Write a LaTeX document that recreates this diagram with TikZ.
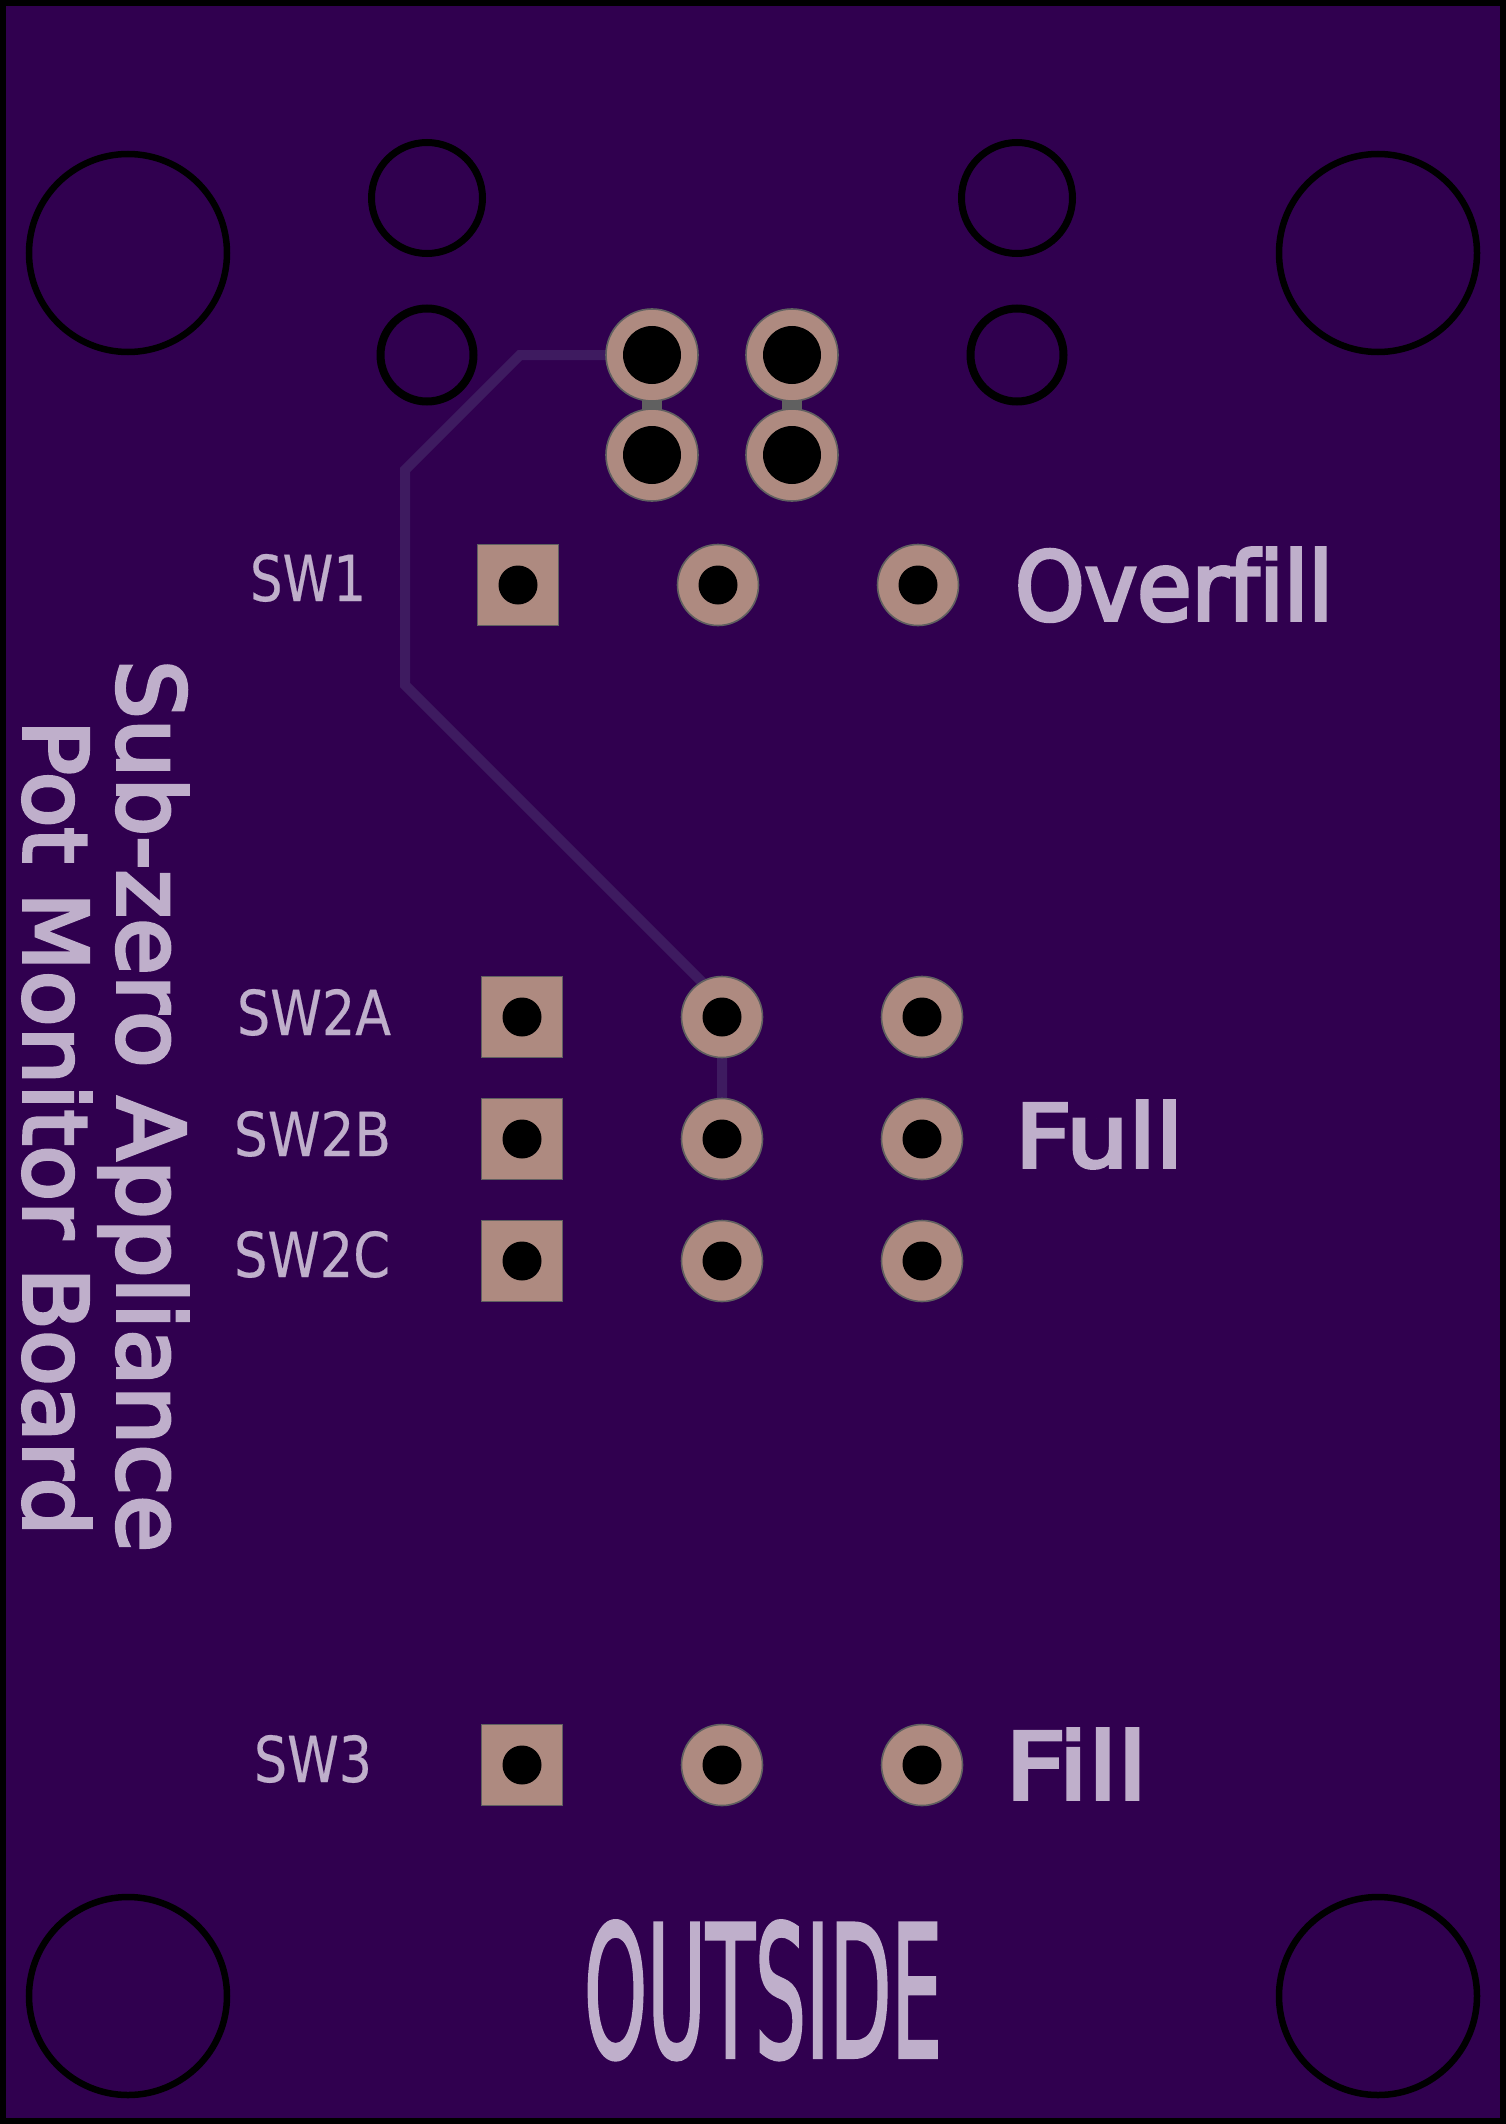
\documentclass[tikz,border=0pt]{standalone}
\usepackage{fontspec}
\usepackage{graphicx}
\setmainfont[Ligatures=NoCommon,FakeBold=0.4]{DejaVu Sans}
\newfontfamily\heavyfont[FakeBold=4,Ligatures=NoCommon]{DejaVu Sans}
\newfontfamily\tallfont[FakeBold=2.2]{DejaVu Sans}
\definecolor{board}{HTML}{30004F}
\definecolor{tracecol}{HTML}{3E1B60}
\definecolor{copper}{HTML}{AE8A80}
\definecolor{padedge}{HTML}{606060}
\definecolor{silk}{HTML}{BFAFCB}
\tikzset{
  outline/.style={draw=black,line width=6pt,fill=board},
  hole/.style={draw=black,line width=6.5pt,circle,minimum size=#1,inner sep=0pt},
  wire/.style={draw=tracecol,line width=10pt,line join=miter},
  neck/.style={fill=padedge,draw=none,minimum width=20pt,minimum height=24pt,inner sep=0pt},
  roundpad/.style={circle,fill=copper,draw=padedge,line width=1.6pt,minimum size=#1,inner sep=0pt},
  squarepad/.style={rectangle,fill=copper,draw=padedge,line width=1.6pt,minimum size=81pt,inner sep=0pt},
  drill/.style={circle,fill=black,draw=none,minimum size=#1,inner sep=0pt},
  silktext/.style={text=silk,inner sep=0pt,outer sep=0pt,anchor=base west}
}
\newcommand{\fitted}[3]{\resizebox{#1pt}{#2pt}{#3}}
\begin{document}
\begin{tikzpicture}[x=1pt,y=-1pt]
\useasboundingbox (0,0) rectangle (1506,2124);
\path[outline] (3,3) rectangle (1503,2121);
% mounting holes
\node[hole=198pt] (m1) at (128,253) {};
\node[hole=198pt] (m2) at (1378,253) {};
\node[hole=198pt] (m3) at (128,1996) {};
\node[hole=198pt] (m4) at (1378,1996) {};
% pot holes
\node[hole=111pt,line width=7pt] (h1) at (427,198) {};
\node[hole=111pt,line width=7pt] (h2) at (1017,198) {};
\node[hole=93pt,line width=8pt] (h3) at (427,355) {};
\node[hole=93pt,line width=8pt] (h4) at (1017,355) {};
% pad centres
\coordinate (p1c) at (652,355);
\coordinate (k2a) at (722,1017);
\coordinate (k2b) at (722,1139);
\coordinate (t1) at (520,355);
\coordinate (t2) at (405,470);
\coordinate (t3) at (405,685);
\coordinate (t4) at (722,1002);
% traces
\draw[wire] (p1c) -- (t1) -- (t2) -- (t3) -- (t4) -- (k2a) -- (k2b);
% necks
\node[neck] (n1) at (652,405) {};
\node[neck] (n2) at (792,405) {};
% big pads
\foreach \nm/\px/\py in {pa/652/355,pb/652/455,pc/792/355,pd/792/455}{
  \node[roundpad=92pt] (\nm) at (\px,\py) {};
  \node[drill=58pt] (\nm d) at (\px,\py) {};
}
% switch pads
\foreach \nm/\sx/\ax/\bx/\py in {one/518/718/918/585,twoa/522/722/922/1017,twob/522/722/922/1139,twoc/522/722/922/1261,three/522/722/922/1765}{
  \node[squarepad] (\nm s) at (\sx,\py) {};
  \node[drill=39pt] (\nm sd) at (\sx,\py) {};
  \node[roundpad=81pt] (\nm m) at (\ax,\py) {};
  \node[drill=39pt] (\nm md) at (\ax,\py) {};
  \node[roundpad=81pt] (\nm e) at (\bx,\py) {};
  \node[drill=39pt] (\nm ed) at (\bx,\py) {};
}
% silkscreen
\node[silktext,rotate=-90] (title1) at (118,660) {\fitted{892}{70}{\heavyfont Sub-zero Appliance}};
\node[silktext,rotate=-90] (title2) at (24,720) {\fitted{815}{67}{\heavyfont Pot Monitor Board}};
\node[silktext] (sw1) at (250,601) {\fitted{116}{47}{SW1}};
\node[silktext] (sw2a) at (237,1035) {\fitted{154}{46}{SW2A}};
\node[silktext] (sw2b) at (234,1156) {\fitted{157}{45}{SW2B}};
\node[silktext] (sw2c) at (234,1277) {\fitted{156}{46}{SW2C}};
\node[silktext] (sw3) at (254,1782) {\fitted{118}{47}{SW3}};
\node[silktext] (over) at (1015,620) {\fitted{318}{72}{\heavyfont Overfill}};
\node[silktext] (full) at (1015,1167) {\fitted{168}{66}{\heavyfont Full}};
\node[silktext] (fill) at (1005,1799) {\fitted{142}{70}{\heavyfont Fill}};
\node[silktext] (outside) at (584,2057) {\fitted{358}{136}{\tallfont OUTSIDE}};
\end{tikzpicture}
\end{document}
